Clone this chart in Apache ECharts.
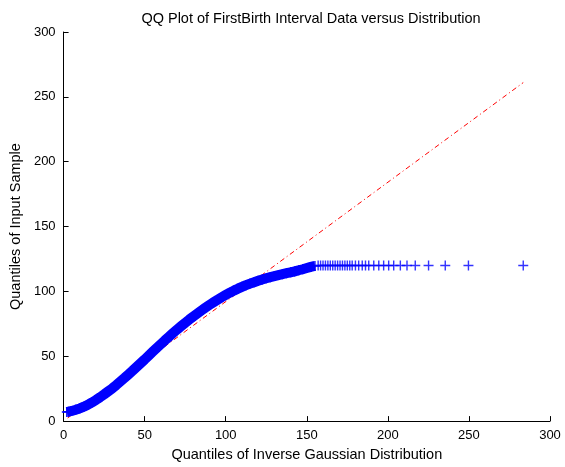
<!DOCTYPE html>
<html>
<head>
<meta charset="utf-8">
<script src="https://cdn.jsdelivr.net/npm/echarts@6/dist/echarts.min.js"></script>
<style>
html,body{margin:0;padding:0;background:#fff;}
#chart{width:565px;height:467px;}
</style>
</head>
<body>
<div id="chart"></div>
<script>
// Theoretical quantiles (x) and sample quantiles (y) for the dense part of the QQ curve
var bandX = [2, 3, 5, 7.5, 10, 12.5, 15, 17.5, 20, 22.5, 25, 27.5, 30, 32.5, 35, 37.5, 40, 42.5, 45, 47.5,
  50, 52.5, 55, 57.5, 60, 62.5, 65, 67.5, 70, 72.5, 75, 77.5, 80, 82.5, 85, 87.5, 90, 92.5, 95, 97.5,
  100, 102.5, 105, 107.5, 110, 112.5, 115, 117.5, 120, 122.5, 125, 127.5, 130, 132.5, 135, 137.5,
  140, 142.5, 145, 147.5, 150, 152.5, 155];
var bandY = [7, 7.2, 7.8, 8.7, 9.8, 11.1, 12.6, 14.4, 16.3, 18.4, 20.6, 22.9, 25.2, 27.8, 30.5, 33.2, 36, 38.8, 41.7, 44.6,
  47.5, 50.5, 53.5, 56.5, 59.4, 62.3, 65.1, 67.9, 70.6, 73.2, 75.8, 78.3, 80.7, 83, 85.3, 87.5, 89.6, 91.6, 93.6, 95.5,
  97.3, 99, 100.6, 102.1, 103.5, 104.8, 106, 107.1, 108.2, 109.2, 110.1, 111, 111.8, 112.6, 113.3, 114,
  114.7, 115.4, 116.3, 117.1, 118, 118.9, 119.6];
// Upper tail: sample capped at 120
var tailX = [157, 158.5, 160, 161.5, 163, 164.5, 166, 167.5, 169, 170.5, 172, 173.5, 175, 176.5, 178, 180, 182,
  184.2, 186.2, 188.2, 191.3, 194.4, 197.4, 200.5, 203.6, 207.7, 211.8, 216.9, 225.1, 235.4, 249.7, 283.5];
var tailY = [120, 120, 120, 120, 120, 120, 120, 120, 120, 120, 120, 120, 120, 120, 120, 120, 120,
  120, 120, 120, 120, 120, 120, 120, 120, 120, 120, 120, 120, 120, 120, 120];
// Reference line end points (through first and third quartiles)
var refX = [2.5, 283.5];
var refY = [2.4, 261];
var xTicks = [0, 50, 100, 150, 200, 250, 300];
var yTicks = [0, 50, 100, 150, 200, 250, 300];

var titleText = 'QQ Plot of FirstBirth Interval Data versus Distribution';
var xName = 'Quantiles of Inverse Gaussian Distribution';
var yName = 'Quantiles of Input Sample';

function zip(a, b) { return a.map(function (v, i) { return [v, b[i]]; }); }

var cross = 'path://M4.3,0H5.7V4.3H10V5.7H5.7V10H4.3V5.7H0V4.3H4.3Z';
var FONT = 'Liberation Sans';

var chart = echarts.init(document.getElementById('chart'), null, {renderer: 'canvas'});
var axisCommon = {
  type: 'value', min: 0, max: 300, interval: 50,
  splitLine: {show: false},
  axisLine: {show: true, onZero: false, lineStyle: {color: '#000', width: 1}},
  axisTick: {show: true, inside: true, length: 5, lineStyle: {color: '#000'}},
  axisLabel: {color: '#000', fontFamily: FONT, fontSize: 13, margin: 8, showMinLabel: true, showMaxLabel: true},
  nameLocation: 'middle',
  nameTextStyle: {color: '#000', fontFamily: FONT, fontSize: 14.5}
};
chart.setOption({
  animation: false,
  backgroundColor: '#fff',
  title: {
    text: titleText, left: 306, top: 6, textAlign: 'center',
    textStyle: {color: '#000', fontFamily: FONT, fontSize: 14.5, fontWeight: 'normal'}
  },
  grid: {left: 62, right: 15, top: 32, bottom: 44, containLabel: false},
  xAxis: Object.assign({}, axisCommon, {name: xName, nameGap: 24,
    axisLabel: Object.assign({}, axisCommon.axisLabel, {formatter: function (v) { return xTicks.indexOf(v) >= 0 ? String(v) : ''; }})}),
  yAxis: Object.assign({}, axisCommon, {name: yName, nameGap: 35,
    axisLabel: Object.assign({}, axisCommon.axisLabel, {formatter: function (v) { return yTicks.indexOf(v) >= 0 ? String(v) : ''; }})}),
  series: [
    {
      type: 'line', data: zip(bandX, bandY), symbol: cross, symbolSize: 10, showSymbol: true, showAllSymbol: true,
      itemStyle: {color: '#0000ff'}, lineStyle: {color: '#0000ff', width: 10}, smooth: false, z: 2
    },
    {
      type: 'scatter', data: zip(tailX, tailY), symbol: cross, symbolSize: 10,
      itemStyle: {color: '#0000ff'}, z: 2
    },
    {
      type: 'line', data: zip(refX, refY), symbol: 'none',
      lineStyle: {color: '#ff0000', width: 1, type: [5, 3, 1, 3]}, z: 1
    }
  ]
});
</script>
</body>
</html>
